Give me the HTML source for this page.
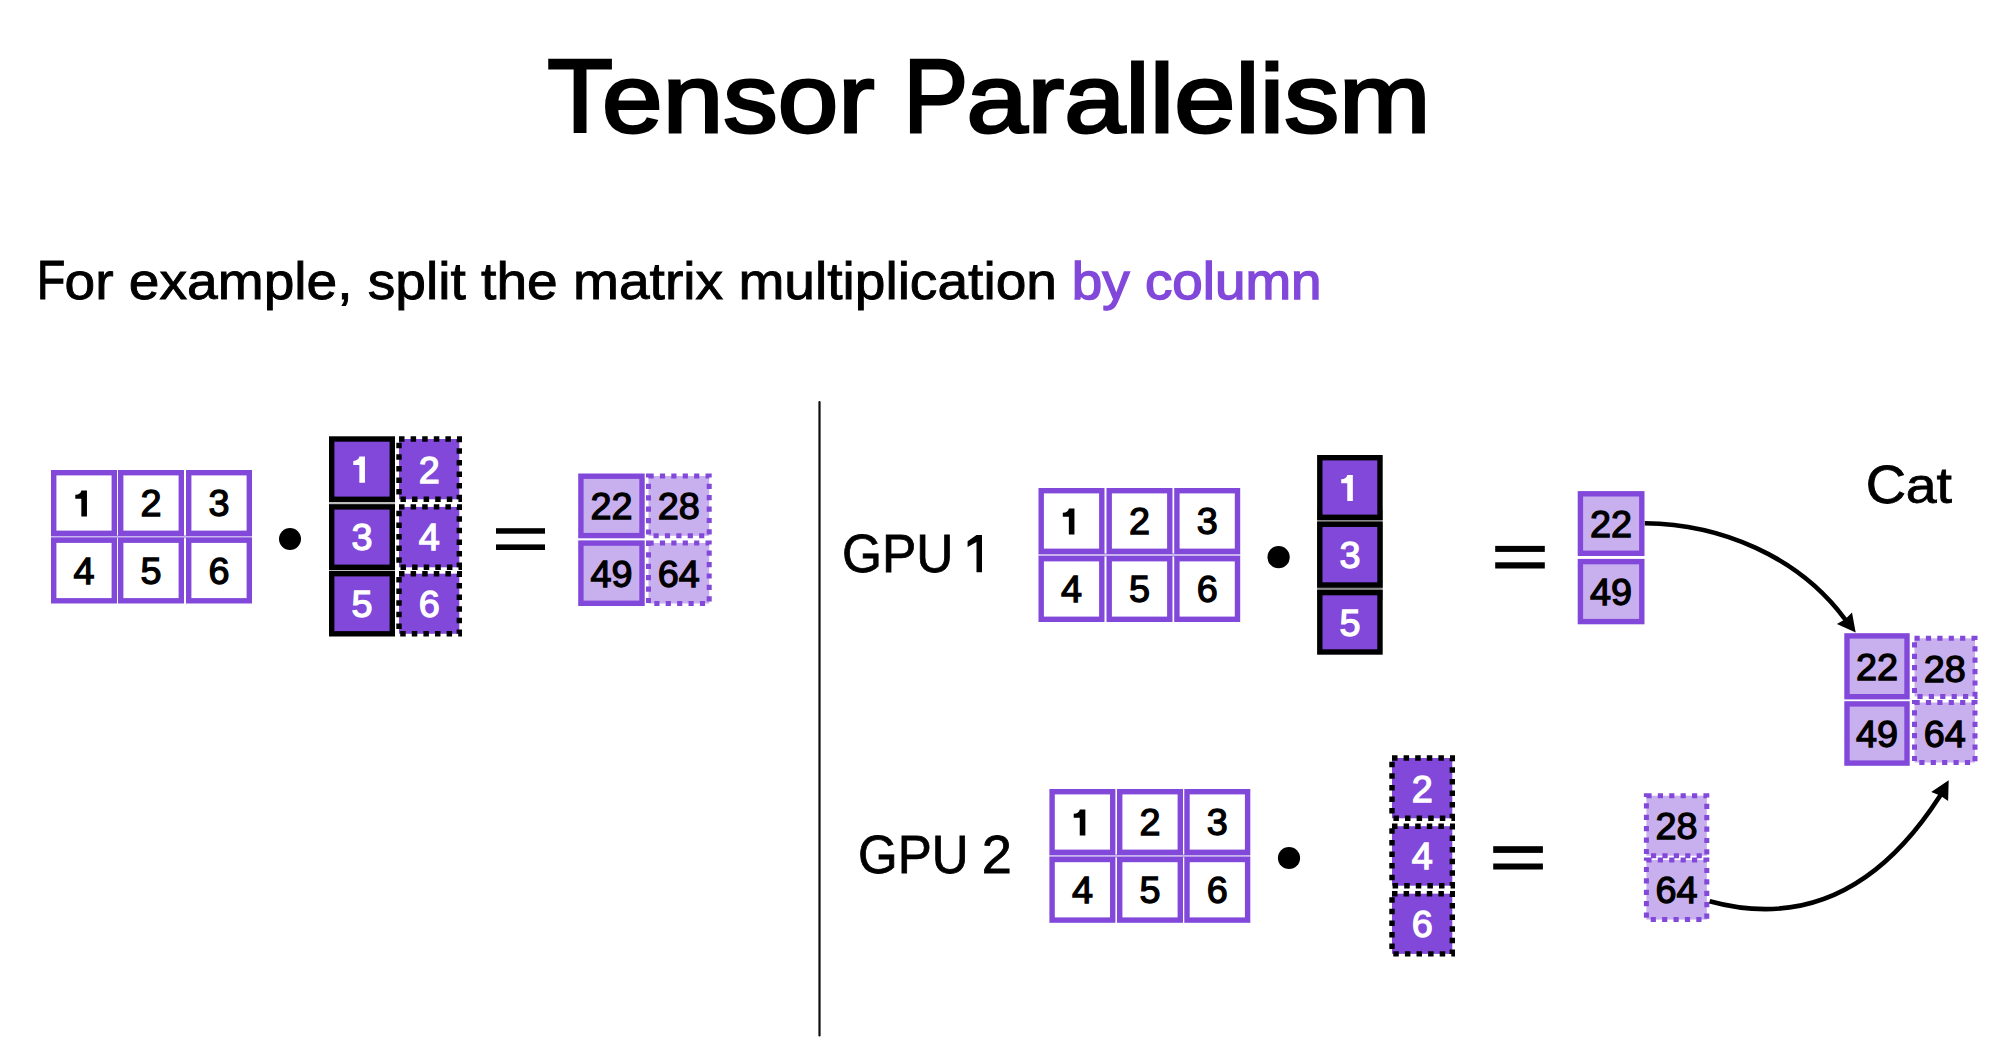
<!DOCTYPE html>
<html><head><meta charset="utf-8"><style>
html,body{margin:0;padding:0;background:#fff;width:1999px;height:1064px;overflow:hidden}
svg{position:absolute;left:0;top:0;font-family:"Liberation Sans",sans-serif}
</style></head><body>
<svg width="1999" height="1064" viewBox="0 0 1999 1064">
<rect x="51" y="535" width="201" height="3.5" fill="#c9b3ef"/>
<rect x="53.70" y="472.70" width="60.60" height="60.60" fill="#fff" stroke="#8248da" stroke-width="5.4"/>
<path d="M75.30,494.80 Q80.80,494.40 81.35,490.40 L86.95,490.40 L86.95,516.50 L81.35,516.50 L81.35,498.80 L75.30,498.80 Z" fill="#000"/>
<rect x="120.70" y="472.70" width="60.60" height="60.60" fill="#fff" stroke="#8248da" stroke-width="5.4"/>
<text x="151.00" y="516.38" text-anchor="middle" font-size="37.8" font-weight="normal" fill="#000" style="stroke:#000;stroke-width:1.3px">2</text>
<rect x="188.70" y="472.70" width="60.60" height="60.60" fill="#fff" stroke="#8248da" stroke-width="5.4"/>
<text x="219.00" y="516.38" text-anchor="middle" font-size="37.8" font-weight="normal" fill="#000" style="stroke:#000;stroke-width:1.3px">3</text>
<rect x="53.70" y="540.20" width="60.60" height="60.60" fill="#fff" stroke="#8248da" stroke-width="5.4"/>
<text x="84.00" y="583.88" text-anchor="middle" font-size="37.8" font-weight="normal" fill="#000" style="stroke:#000;stroke-width:1.3px">4</text>
<rect x="120.70" y="540.20" width="60.60" height="60.60" fill="#fff" stroke="#8248da" stroke-width="5.4"/>
<text x="151.00" y="583.88" text-anchor="middle" font-size="37.8" font-weight="normal" fill="#000" style="stroke:#000;stroke-width:1.3px">5</text>
<rect x="188.70" y="540.20" width="60.60" height="60.60" fill="#fff" stroke="#8248da" stroke-width="5.4"/>
<text x="219.00" y="583.88" text-anchor="middle" font-size="37.8" font-weight="normal" fill="#000" style="stroke:#000;stroke-width:1.3px">6</text>
<circle cx="290" cy="539" r="11"/>
<rect x="329" y="490" width="66" height="90" fill="#bdbdbd"/>
<rect x="331.70" y="439.00" width="60.60" height="60.30" fill="#8248da" stroke="#000" stroke-width="5.4"/>
<path d="M353.30,460.95 Q358.80,460.55 359.35,456.55 L364.95,456.55 L364.95,482.65 L359.35,482.65 L359.35,464.95 L353.30,464.95 Z" fill="#fff"/>
<rect x="399.00" y="439.00" width="60.30" height="60.30" fill="#8248da" stroke="#000" stroke-width="5.4" stroke-dasharray="5.5 6.1"/>
<text x="429.15" y="482.53" text-anchor="middle" font-size="37.8" font-weight="normal" fill="#fff" style="stroke:#fff;stroke-width:1.3px">2</text>
<rect x="331.70" y="506.90" width="60.60" height="60.40" fill="#8248da" stroke="#000" stroke-width="5.4"/>
<text x="362.00" y="550.48" text-anchor="middle" font-size="37.8" font-weight="normal" fill="#fff" style="stroke:#fff;stroke-width:1.3px">3</text>
<rect x="399.00" y="506.90" width="60.30" height="60.40" fill="#8248da" stroke="#000" stroke-width="5.4" stroke-dasharray="5.5 6.1"/>
<text x="429.15" y="550.48" text-anchor="middle" font-size="37.8" font-weight="normal" fill="#fff" style="stroke:#fff;stroke-width:1.3px">4</text>
<rect x="331.70" y="573.70" width="60.60" height="60.10" fill="#8248da" stroke="#000" stroke-width="5.4"/>
<text x="362.00" y="617.13" text-anchor="middle" font-size="37.8" font-weight="normal" fill="#fff" style="stroke:#fff;stroke-width:1.3px">5</text>
<rect x="399.00" y="573.70" width="60.30" height="60.10" fill="#8248da" stroke="#000" stroke-width="5.4" stroke-dasharray="5.5 6.1"/>
<text x="429.15" y="617.13" text-anchor="middle" font-size="37.8" font-weight="normal" fill="#fff" style="stroke:#fff;stroke-width:1.3px">6</text>
<rect x="496" y="528.2" width="49" height="5.5"/><rect x="496" y="544.4" width="49" height="5.6"/>
<rect x="580.90" y="476.20" width="61.10" height="59.40" fill="#c8b0ee" stroke="#8248da" stroke-width="5.4"/>
<text x="611.45" y="519.28" text-anchor="middle" font-size="37.8" font-weight="normal" fill="#000" style="stroke:#000;stroke-width:1.3px">22</text>
<rect x="648.50" y="476.00" width="60.70" height="59.80" fill="#c8b0ee" stroke="#8248da" stroke-width="5" stroke-dasharray="5.2 6.2"/>
<text x="678.85" y="519.28" text-anchor="middle" font-size="37.8" font-weight="normal" fill="#000" style="stroke:#000;stroke-width:1.3px">28</text>
<rect x="580.90" y="543.10" width="61.10" height="60.20" fill="#c8b0ee" stroke="#8248da" stroke-width="5.4"/>
<text x="611.45" y="586.58" text-anchor="middle" font-size="37.8" font-weight="normal" fill="#000" style="stroke:#000;stroke-width:1.3px">49</text>
<rect x="648.50" y="542.90" width="60.70" height="60.60" fill="#c8b0ee" stroke="#8248da" stroke-width="5" stroke-dasharray="5.2 6.2"/>
<text x="678.85" y="586.58" text-anchor="middle" font-size="37.8" font-weight="normal" fill="#000" style="stroke:#000;stroke-width:1.3px">64</text>
<line x1="819.5" y1="402" x2="819.5" y2="1035.5" stroke="#0d0d0d" stroke-width="2.2" stroke-linecap="round"/>
<rect x="1038.5" y="553" width="201.70000000000005" height="4" fill="#c9b3ef"/>
<rect x="1041.20" y="490.70" width="60.60" height="60.60" fill="#fff" stroke="#8248da" stroke-width="5.4"/>
<path d="M1062.80,512.80 Q1068.30,512.40 1068.85,508.40 L1074.45,508.40 L1074.45,534.50 L1068.85,534.50 L1068.85,516.80 L1062.80,516.80 Z" fill="#000"/>
<rect x="1109.20" y="490.70" width="60.60" height="60.60" fill="#fff" stroke="#8248da" stroke-width="5.4"/>
<text x="1139.50" y="534.38" text-anchor="middle" font-size="37.8" font-weight="normal" fill="#000" style="stroke:#000;stroke-width:1.3px">2</text>
<rect x="1176.90" y="490.70" width="60.60" height="60.60" fill="#fff" stroke="#8248da" stroke-width="5.4"/>
<text x="1207.20" y="534.38" text-anchor="middle" font-size="37.8" font-weight="normal" fill="#000" style="stroke:#000;stroke-width:1.3px">3</text>
<rect x="1041.20" y="558.70" width="60.60" height="60.60" fill="#fff" stroke="#8248da" stroke-width="5.4"/>
<text x="1071.50" y="602.38" text-anchor="middle" font-size="37.8" font-weight="normal" fill="#000" style="stroke:#000;stroke-width:1.3px">4</text>
<rect x="1109.20" y="558.70" width="60.60" height="60.60" fill="#fff" stroke="#8248da" stroke-width="5.4"/>
<text x="1139.50" y="602.38" text-anchor="middle" font-size="37.8" font-weight="normal" fill="#000" style="stroke:#000;stroke-width:1.3px">5</text>
<rect x="1176.90" y="558.70" width="60.60" height="60.60" fill="#fff" stroke="#8248da" stroke-width="5.4"/>
<text x="1207.20" y="602.38" text-anchor="middle" font-size="37.8" font-weight="normal" fill="#000" style="stroke:#000;stroke-width:1.3px">6</text>
<circle cx="1278.6" cy="557.2" r="11.1"/>
<rect x="1317.1" y="510" width="65.6" height="90" fill="#8a8a8a"/>
<rect x="1319.80" y="457.70" width="60.20" height="59.60" fill="#8248da" stroke="#000" stroke-width="5.4"/>
<path d="M1341.20,479.30 Q1346.70,478.90 1347.25,474.90 L1352.85,474.90 L1352.85,501.00 L1347.25,501.00 L1347.25,483.30 L1341.20,483.30 Z" fill="#fff"/>
<rect x="1319.80" y="524.30" width="60.20" height="60.70" fill="#8248da" stroke="#000" stroke-width="5.4"/>
<text x="1349.90" y="568.03" text-anchor="middle" font-size="37.8" font-weight="normal" fill="#fff" style="stroke:#fff;stroke-width:1.3px">3</text>
<rect x="1319.80" y="592.60" width="60.20" height="59.40" fill="#8248da" stroke="#000" stroke-width="5.4"/>
<text x="1349.90" y="635.68" text-anchor="middle" font-size="37.8" font-weight="normal" fill="#fff" style="stroke:#fff;stroke-width:1.3px">5</text>
<rect x="1495.2" y="545.9" width="49.6" height="6"/><rect x="1495.2" y="562.3" width="49.6" height="6.2"/>
<rect x="1580.40" y="493.80" width="61.40" height="59.50" fill="#c8b0ee" stroke="#8248da" stroke-width="5.4"/>
<text x="1611.10" y="536.93" text-anchor="middle" font-size="37.8" font-weight="normal" fill="#000" style="stroke:#000;stroke-width:1.3px">22</text>
<rect x="1580.40" y="561.60" width="61.40" height="60.00" fill="#c8b0ee" stroke="#8248da" stroke-width="5.4"/>
<text x="1611.10" y="604.98" text-anchor="middle" font-size="37.8" font-weight="normal" fill="#000" style="stroke:#000;stroke-width:1.3px">49</text>
<rect x="1847.00" y="635.90" width="60.00" height="60.80" fill="#c8b0ee" stroke="#8248da" stroke-width="5.4"/>
<text x="1877.00" y="679.68" text-anchor="middle" font-size="37.8" font-weight="normal" fill="#000" style="stroke:#000;stroke-width:1.3px">22</text>
<rect x="1847.00" y="703.90" width="60.00" height="59.20" fill="#c8b0ee" stroke="#8248da" stroke-width="5.4"/>
<text x="1877.00" y="746.88" text-anchor="middle" font-size="37.8" font-weight="normal" fill="#000" style="stroke:#000;stroke-width:1.3px">49</text>
<rect x="1914.50" y="638.30" width="60.50" height="58.10" fill="#c8b0ee" stroke="#8248da" stroke-width="5" stroke-dasharray="5.2 6.2"/>
<text x="1944.75" y="681.73" text-anchor="middle" font-size="37.8" font-weight="normal" fill="#000" style="stroke:#000;stroke-width:1.3px">28</text>
<rect x="1914.50" y="702.50" width="60.50" height="60.00" fill="#c8b0ee" stroke="#8248da" stroke-width="5" stroke-dasharray="5.2 6.2"/>
<text x="1944.75" y="746.88" text-anchor="middle" font-size="37.8" font-weight="normal" fill="#000" style="stroke:#000;stroke-width:1.3px">64</text>
<path d="M1644.8,523.2 C1720.9,524.0 1798.2,556.3 1844.5,618.5 L1847.5,622.5" fill="none" stroke="#000" stroke-width="4.6"/>
<path d="M1855.7,632.6 L1836.9,623.9 L1845.2,619.2 L1852,612.4 Z" fill="#000"/>
<rect x="1049.4" y="854" width="200.89999999999986" height="3.7999999999999545" fill="#c9b3ef"/>
<rect x="1052.10" y="791.70" width="60.60" height="60.60" fill="#fff" stroke="#8248da" stroke-width="5.4"/>
<path d="M1073.70,813.80 Q1079.20,813.40 1079.75,809.40 L1085.35,809.40 L1085.35,835.50 L1079.75,835.50 L1079.75,817.80 L1073.70,817.80 Z" fill="#000"/>
<rect x="1119.70" y="791.70" width="60.60" height="60.60" fill="#fff" stroke="#8248da" stroke-width="5.4"/>
<text x="1150.00" y="835.38" text-anchor="middle" font-size="37.8" font-weight="normal" fill="#000" style="stroke:#000;stroke-width:1.3px">2</text>
<rect x="1187.00" y="791.70" width="60.60" height="60.60" fill="#fff" stroke="#8248da" stroke-width="5.4"/>
<text x="1217.30" y="835.38" text-anchor="middle" font-size="37.8" font-weight="normal" fill="#000" style="stroke:#000;stroke-width:1.3px">3</text>
<rect x="1052.10" y="859.50" width="60.60" height="60.60" fill="#fff" stroke="#8248da" stroke-width="5.4"/>
<text x="1082.40" y="903.18" text-anchor="middle" font-size="37.8" font-weight="normal" fill="#000" style="stroke:#000;stroke-width:1.3px">4</text>
<rect x="1119.70" y="859.50" width="60.60" height="60.60" fill="#fff" stroke="#8248da" stroke-width="5.4"/>
<text x="1150.00" y="903.18" text-anchor="middle" font-size="37.8" font-weight="normal" fill="#000" style="stroke:#000;stroke-width:1.3px">5</text>
<rect x="1187.00" y="859.50" width="60.60" height="60.60" fill="#fff" stroke="#8248da" stroke-width="5.4"/>
<text x="1217.30" y="903.18" text-anchor="middle" font-size="37.8" font-weight="normal" fill="#000" style="stroke:#000;stroke-width:1.3px">6</text>
<circle cx="1289" cy="858" r="11.1"/>
<rect x="1392.00" y="758.00" width="60.30" height="60.30" fill="#8248da" stroke="#000" stroke-width="5.4" stroke-dasharray="5.5 6.1"/>
<text x="1422.15" y="801.53" text-anchor="middle" font-size="37.8" font-weight="normal" fill="#fff" style="stroke:#fff;stroke-width:1.3px">2</text>
<rect x="1392.00" y="826.20" width="60.30" height="59.50" fill="#8248da" stroke="#000" stroke-width="5.4" stroke-dasharray="5.5 6.1"/>
<text x="1422.15" y="869.33" text-anchor="middle" font-size="37.8" font-weight="normal" fill="#fff" style="stroke:#fff;stroke-width:1.3px">4</text>
<rect x="1392.00" y="893.70" width="60.30" height="60.20" fill="#8248da" stroke="#000" stroke-width="5.4" stroke-dasharray="5.5 6.1"/>
<text x="1422.15" y="937.18" text-anchor="middle" font-size="37.8" font-weight="normal" fill="#fff" style="stroke:#fff;stroke-width:1.3px">6</text>
<rect x="1493.2" y="846.2" width="49.7" height="6.7"/><rect x="1493.2" y="863.5" width="49.7" height="6"/>
<rect x="1646.40" y="795.70" width="60.40" height="60.00" fill="#c8b0ee" stroke="#8248da" stroke-width="5" stroke-dasharray="5.2 6.2"/>
<text x="1676.60" y="839.08" text-anchor="middle" font-size="37.8" font-weight="normal" fill="#000" style="stroke:#000;stroke-width:1.3px">28</text>
<rect x="1646.40" y="859.90" width="60.40" height="59.70" fill="#c8b0ee" stroke="#8248da" stroke-width="5" stroke-dasharray="5.2 6.2"/>
<text x="1676.60" y="903.13" text-anchor="middle" font-size="37.8" font-weight="normal" fill="#000" style="stroke:#000;stroke-width:1.3px">64</text>
<path d="M1709.6,901.2 C1812.3,929.3 1885.7,880.0 1939.6,796.5 L1942.2,792.5" fill="none" stroke="#000" stroke-width="4.6"/>
<path d="M1948.7,780.2 L1948.1,801 L1940.2,795.6 L1931.2,792 Z" fill="#000"/>
<text x="547.37" y="132.3" font-size="104.5" textLength="65.7" lengthAdjust="spacingAndGlyphs" fill="#000" style="stroke:#000;stroke-width:2.8px">T</text>
<text x="602.1" y="132.3" font-size="96" textLength="272.36" lengthAdjust="spacingAndGlyphs" fill="#000" style="stroke:#000;stroke-width:2.8px">ensor</text>
<text x="903.37" y="132.3" font-size="104.5" textLength="64.98" lengthAdjust="spacingAndGlyphs" fill="#000" style="stroke:#000;stroke-width:2.8px">P</text>
<text x="966.47" y="132.3" font-size="96" textLength="464.2" lengthAdjust="spacingAndGlyphs" fill="#000" style="stroke:#000;stroke-width:2.8px">arallelism</text>
<text x="36.79" y="298.5" font-size="55" textLength="28.69" lengthAdjust="spacingAndGlyphs" fill="#000" style="stroke:#000;stroke-width:0.9px">F</text>
<text x="64.55" y="298.5" font-size="51.2" textLength="992.4" lengthAdjust="spacingAndGlyphs" fill="#000" style="stroke:#000;stroke-width:0.9px">or example, split the matrix multiplication</text>
<text x="1071.79" y="298.8" font-size="51.2" textLength="249.74" lengthAdjust="spacingAndGlyphs" fill="#8248da" style="stroke:#8248da;stroke-width:1.4px">by column</text>
<text x="842.07" y="572" font-size="53.3" textLength="111.3" lengthAdjust="spacingAndGlyphs" fill="#000" style="stroke:#000;stroke-width:0.8px">GPU</text>
<path d="M967.6,541.3 L976.5,535.1 L982,535.1 L982,572.3 L976.5,572.3 L976.5,541.9 L967.6,547.1 Z"/>
<text x="858.09" y="872.8" font-size="53.3" textLength="110.56" lengthAdjust="spacingAndGlyphs" fill="#000" style="stroke:#000;stroke-width:0.8px">GPU</text>
<text x="981.67" y="872.8" font-size="53.3" textLength="30.13" lengthAdjust="spacingAndGlyphs" fill="#000" style="stroke:#000;stroke-width:0.8px">2</text>
<text x="1865.8" y="502.8" font-size="53.3" textLength="40.37" lengthAdjust="spacingAndGlyphs" fill="#000" style="stroke:#000;stroke-width:0.8px">C</text>
<text x="1905.66" y="502.8" font-size="49.5" textLength="46.27" lengthAdjust="spacingAndGlyphs" fill="#000" style="stroke:#000;stroke-width:0.8px">at</text>
</svg>
</body></html>
